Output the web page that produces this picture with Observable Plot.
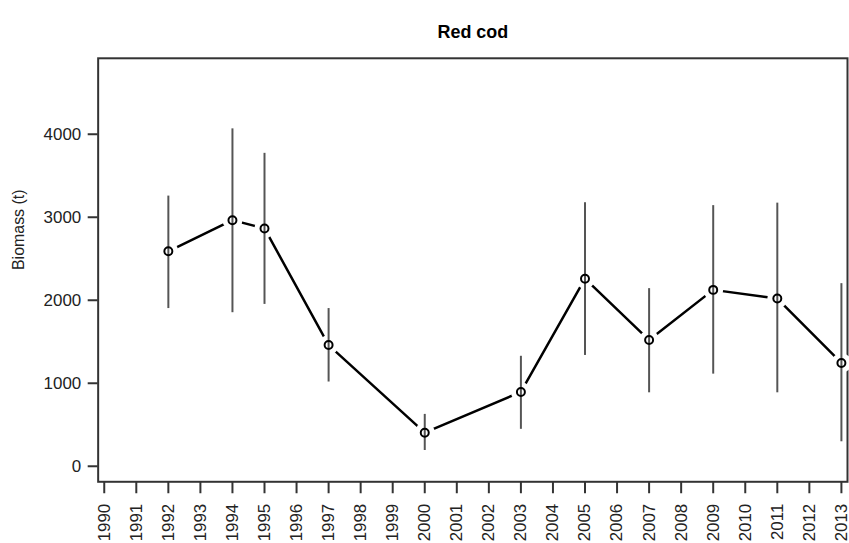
<!DOCTYPE html>
<html>
<head>
<meta charset="utf-8">
<script src="https://cdn.jsdelivr.net/npm/d3@7"></script>
<script src="https://cdn.jsdelivr.net/npm/@observablehq/plot@0.6"></script>
<style>
  html, body { margin: 0; padding: 0; background: #fff; overflow: hidden; }
  #chart { width: 849px; height: 543px; overflow: hidden; }
</style>
</head>
<body>
<div id="chart"></div>
<script>
// Red cod survey biomass estimates with confidence intervals
const years   = [1992, 1994, 1995, 1997, 2000, 2003, 2005, 2007, 2009, 2011, 2013];
const biomass = [2590, 2965, 2865, 1460,  405,  895, 2260, 1520, 2125, 2020, 1245];
const lower   = [1900, 1850, 1950, 1015,  190,  445, 1335,  885, 1110,  885,  295];
const upper   = [3255, 4065, 3770, 1900,  625, 1325, 3175, 2140, 3140, 3170, 2200];

const yearTicks = d3.range(1990, 2014);
const biomassTicks = [0, 1000, 2000, 3000, 4000];

const rows = years.map((year, i) => ({year, value: biomass[i], lo: lower[i], hi: upper[i]}));

const axisColor = "#333";
const font = "Liberation Sans, Arial, Helvetica, sans-serif";

const chart = Plot.plot({
  width: 852,
  height: 543,
  marginTop: 58,
  marginBottom: 60,
  marginLeft: 98,
  marginRight: 2,
  style: {fontFamily: font, fontSize: "17px", color: axisColor, background: "#fff"},
  x: {domain: [1989.81, 2013.19]},
  y: {domain: [-187, 4915]},
  marks: [
    Plot.frame({stroke: axisColor, strokeWidth: 2}),
    Plot.axisX({
      ticks: yearTicks, tickFormat: d => String(d), tickSize: 12, tickPadding: 10,
      tickRotate: -90, label: null, strokeWidth: 2, stroke: axisColor, fill: "#222",
      fontSize: 17
    }),
    Plot.axisY({
      ticks: biomassTicks, tickFormat: d => String(d), tickSize: 10, tickPadding: 7,
      label: null, strokeWidth: 2, stroke: axisColor, fill: "#222", fontSize: 17
    }),
    // connecting line, broken around each point by a white halo
    Plot.line(rows, {x: "year", y: "value", stroke: "#000", strokeWidth: 2.5}),
    Plot.dot(rows, {x: "year", y: "value", r: 10, fill: "#fff", stroke: null}),
    // confidence intervals
    Plot.ruleX(rows, {x: "year", y1: "lo", y2: "hi", stroke: "#555", strokeWidth: 2}),
    // open circle estimates
    Plot.dot(rows, {x: "year", y: "value", r: 4, fill: "none", stroke: "#000", strokeWidth: 2}),
    Plot.text(["Red cod"], {
      frameAnchor: "top", dy: -33, fontWeight: "bold", fontSize: 18, fill: "#000"
    }),
    Plot.text(["Biomass (t)"], {
      frameAnchor: "left", dx: -80, rotate: -90, fontSize: 16, fill: "#222"
    })
  ]
});

document.getElementById("chart").appendChild(chart);
</script>
</body>
</html>
